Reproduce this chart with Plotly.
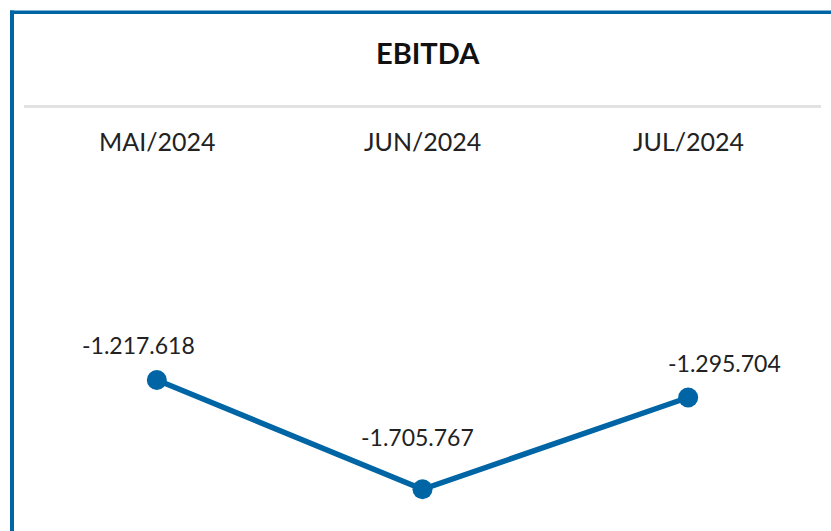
import plotly.graph_objects as go

# ---- data ----
months = ["MAI/2024", "JUN/2024", "JUL/2024"]
ebitda = [-1217618, -1705767, -1295704]
title_text = "EBITDA"

# ---- style ----
W, H = 831, 531
BLUE = "#0065A5"
GRAY = "#E2E2E2"
label_dx = [-18, -5, 36]    # px offsets of value labels
label_dy = [35, 52, 34]

def fmt(v):
    return f"{v:,}".replace(",", ".")

def px(x):
    return x / W

def py(y):
    return 1 - y / H

fig = go.Figure()
fig.add_trace(go.Scatter(
    x=months, y=ebitda, mode="lines+markers",
    line=dict(color=BLUE, width=5.5),
    marker=dict(color=BLUE, size=20),
    hoverinfo="skip", showlegend=False,
))

annotations = []
for m, v, dx, dy in zip(months, ebitda, label_dx, label_dy):
    annotations.append(dict(
        x=m, y=v, xref="x", yref="y", text=fmt(v), showarrow=False,
        xshift=dx, yshift=dy, font=dict(family="Lato", size=23, color="#222222"),
    ))
for m in months:
    annotations.append(dict(
        x=m, y=py(141), xref="x", yref="paper", text=m, showarrow=False,
        yanchor="middle", font=dict(family="Lato", size=25, color="#222222"),
    ))
annotations.append(dict(
    x=px(428), y=py(52), xref="paper", yref="paper", text=f"<b>{title_text}</b>",
    showarrow=False, yanchor="middle", xanchor="center",
    font=dict(family="Lato", size=29, color="#111111"),
))

shapes = [
    dict(type="rect", xref="paper", yref="paper", x0=px(10), x1=px(14), y0=0, y1=py(10.5),
         fillcolor=BLUE, line_width=0, layer="above"),
    dict(type="rect", xref="paper", yref="paper", x0=px(10), x1=1, y0=py(14), y1=py(10.5),
         fillcolor=BLUE, line_width=0, layer="above"),
    dict(type="rect", xref="paper", yref="paper", x0=px(24), x1=px(821), y0=py(108), y1=py(105),
         fillcolor=GRAY, line_width=0, layer="below"),
]

fig.update_layout(
    width=W, height=H,
    margin=dict(l=0, r=0, t=0, b=0),
    paper_bgcolor="white", plot_bgcolor="white",
    annotations=annotations, shapes=shapes,
    xaxis=dict(domain=[px(24), px(821)], range=[-0.5, 2.5], visible=False, fixedrange=True),
    yaxis=dict(domain=[0, 1], range=[-1891984, 479462], visible=False, fixedrange=True),
)

fig.write_html(
    "out.html",
    config={"displayModeBar": False},
    post_script="document.body.style.margin='0';document.body.style.padding='0';document.body.style.overflow='hidden';",
)
